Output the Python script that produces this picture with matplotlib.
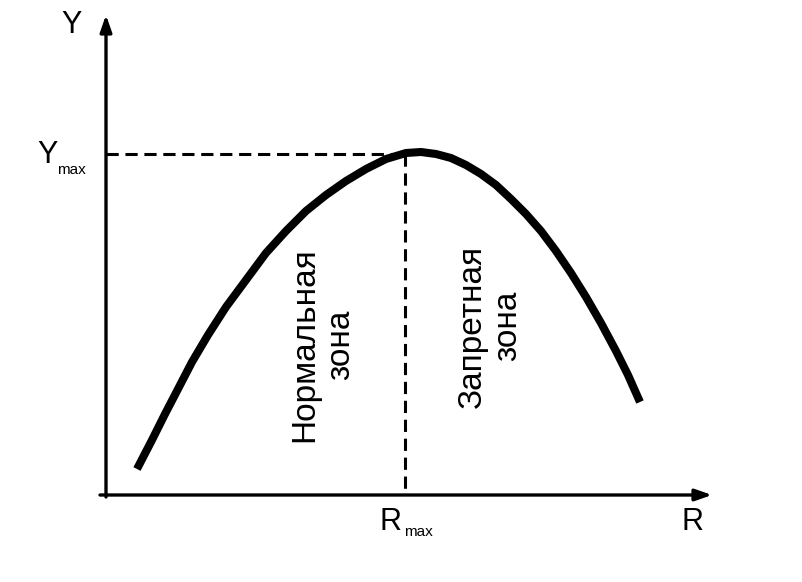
import numpy as np
import matplotlib.pyplot as plt

plt.rcParams['font.family'] = ['Liberation Sans', 'DejaVu Sans']

# curve (R, Y)
r_vals = [31, 46, 59, 72, 86, 102, 120, 140, 160, 180, 200, 220, 240,
          260, 280, 300, 315, 330, 345, 360, 375, 390, 405, 420, 435,
          450, 465, 480, 495, 510, 522, 534]
y_vals = [26, 55, 81, 106, 133, 160, 188, 215, 242, 264, 284, 300, 314,
          326, 336, 342, 343, 341, 337, 330, 321, 310, 296, 281, 264,
          244, 222, 198, 172, 144, 120, 93]
r_max = 299
y_max = 341
r_end = 606
y_end = 480

fig = plt.figure(figsize=(8.02, 5.82), dpi=100)
ax = fig.add_axes([0, 0, 1, 1])
ax.set_xlim(-106, 696)
ax.set_ylim(-87, 495)
ax.axis('off')

# axes with arrows
ax.annotate('', xy=(0, y_end), xytext=(0, -2),
            arrowprops=dict(arrowstyle='-|>,head_length=1.0,head_width=0.35',
                            lw=2.4, color='black', shrinkA=0, shrinkB=0))
ax.annotate('', xy=(r_end, 0), xytext=(-6, 0),
            arrowprops=dict(arrowstyle='-|>,head_length=1.0,head_width=0.35',
                            lw=2.4, color='black', shrinkA=0, shrinkB=0))

# dashed guide lines
ax.plot([0, r_max], [y_max, y_max], color='black', lw=2.2,
        linestyle=(0, (4, 2.2)))
ax.plot([r_max, r_max], [y_max, 0], color='black', lw=2.2,
        linestyle=(0, (4, 2.2)))

# the curve
ax.plot(r_vals, y_vals, color='black', lw=5.8, solid_capstyle='butt',
        solid_joinstyle='round')

# labels
ax.text(-34, 470, 'Y', fontsize=22, ha='center', va='center')
ax.text(-58, 340, 'Y', fontsize=22, ha='center', va='center')
ax.text(-35, 325, 'max', fontsize=11, ha='center', va='center')
ax.text(285, -27, 'R', fontsize=22, ha='center', va='center')
ax.text(312, -37, 'max', fontsize=11, ha='center', va='center')
ax.text(586, -27, 'R', fontsize=22, ha='center', va='center')

ax.text(217, 150, 'Нормальная\nзона', fontsize=24, rotation=90,
        ha='center', va='center', multialignment='center', linespacing=1.2)
ax.text(384, 169, 'Запретная\nзона', fontsize=24, rotation=90,
        ha='center', va='center', multialignment='center', linespacing=1.2)

fig.savefig('out.png', dpi=100)
